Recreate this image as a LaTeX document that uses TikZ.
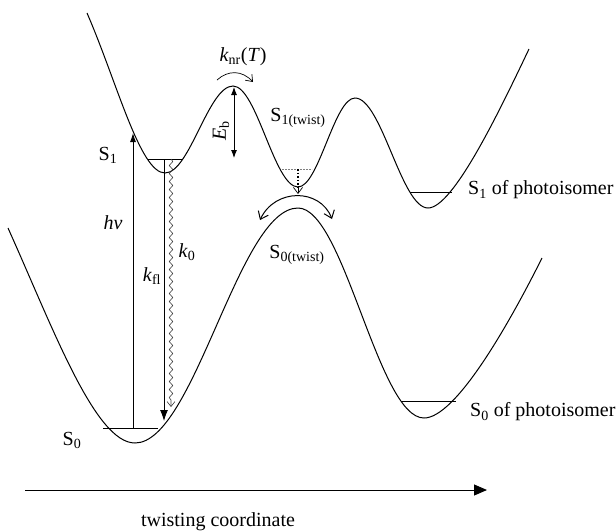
\documentclass[tikz,border=0pt]{standalone}
\usepackage{fontspec}
\setmainfont{Liberation Serif}
\usetikzlibrary{arrows.meta,decorations.pathmorphing}
\begin{document}
\begin{tikzpicture}[x=1pt,y=-1pt,
  font=\fontsize{20}{24}\selectfont,
  pes/.style={line width=1pt},
  lvl/.style={line width=0.9pt},
  lbl/.style={inner sep=0pt},
  fillarrow/.style={line width=0.9pt,-{Latex[length=9pt,width=6pt]}},
  openarrow/.style={line width=0.7pt,-{Straight Barb[length=6pt,width=9pt]}}]
\useasboundingbox (0,0) rectangle (616,531);
% potential energy curves
\draw[pes] (87,13) .. controls (117,82) and (140,173) .. (165,173)
  .. controls (189.7,173) and (208.3,86) .. (233,86)
  .. controls (256.7,86) and (274.3,187) .. (298,187)
  .. controls (318.7,187) and (334.3,98) .. (355,98)
  .. controls (381.6,98) and (401.4,208) .. (428,208)
  .. controls (453,208) and (499,112) .. (529,49);
\draw[pes] (8,228) .. controls (53,328) and (95,443) .. (135,443)
  .. controls (194.3,443) and (238.7,208) .. (298,208)
  .. controls (343.9,208) and (378.1,418) .. (424,418)
  .. controls (455,418) and (507,328) .. (542,258);
% vibrational levels
\draw[lvl] (148,159) -- (183,159);
\draw[lvl,gray,dash pattern=on 2pt off 1pt] (282,169) -- (312,169);
\draw[lvl] (410,192) -- (452,192);
\draw[lvl] (103,428) -- (158,428);
\draw[lvl] (401,401) -- (456,401);
% arrow end points
\coordinate (hvA) at (133,428);
\coordinate (hvB) at (133,133);
\coordinate (flA) at (164,159);
\coordinate (flB) at (164,421);
\coordinate (k0A) at (171,159);
\coordinate (k0B) at (171,407);
\coordinate (ebA) at (234,87);
\coordinate (ebB) at (234,158);
\coordinate (knA) at (217,80);
\coordinate (knB) at (253,82);
\coordinate (twA) at (298,169);
\coordinate (twB) at (298,194);
\coordinate (ciL) at (260,220);
\coordinate (ciR) at (332,219);
\coordinate (ax0) at (25,490);
\coordinate (ax1) at (487,490);
% arrows
\draw[fillarrow] (hvA) -- (hvB);
\draw[fillarrow,-{Latex[length=11pt,width=8pt]}] (flA) -- (flB);
\draw[line width=0.6pt,black!75,-{Straight Barb[length=5pt,width=8pt]},
  decorate,decoration={snake,amplitude=1.8pt,segment length=8pt,post length=5pt}] (k0A) -- (k0B);
\draw[line width=0.9pt,{Latex[length=8pt,width=6pt]}-{Latex[length=8pt,width=6pt]}] (ebA) -- (ebB);
\draw[openarrow] (knA) .. controls (228,70) and (242,70) .. (knB);
\draw[line width=1.6pt,dotted] (twA) -- (298,188);
\draw[openarrow] (298,186) -- (twB);
\draw[line width=1pt,{Straight Barb[length=7pt,width=11pt]}-{Straight Barb[length=7pt,width=11pt]}] (ciL) .. controls (275,188) and (320,188) .. (ciR);
\draw[line width=1pt,-{Triangle[length=13pt,width=11pt]}] (ax0) -- (ax1);
% labels
\node[lbl] (lS1) at (108,155) {S\textsubscript{1}};
\node[lbl] (lhv) at (113,223) {\textit{hν}};
\node[lbl] (lkfl) at (152,276) {\textit{k}\textsubscript{fl}};
\node[lbl] (lk0) at (187,252) {\textit{k}\textsubscript{0}};
\node[lbl,rotate=90] (lEb) at (221,131) {\textit{E}\textsubscript{b}};
\node[lbl] (lknr) at (243,57) {\textit{k}\textsubscript{nr}(\textit{T})};
\node[lbl] (lS1t) at (298,118) {S\textsubscript{1(twist)}};
\node[lbl] (lS0t) at (297,255) {S\textsubscript{0(twist)}};
\node[lbl] (lS0) at (72,440) {S\textsubscript{0}};
\node[lbl,anchor=west] (lS1p) at (468,190) {S\textsubscript{1} of photoisomer};
\node[lbl,anchor=west] (lS0p) at (470,412) {S\textsubscript{0} of photoisomer};
\node[lbl] (lax) at (218,522) {twisting coordinate};
\end{tikzpicture}
\end{document}
